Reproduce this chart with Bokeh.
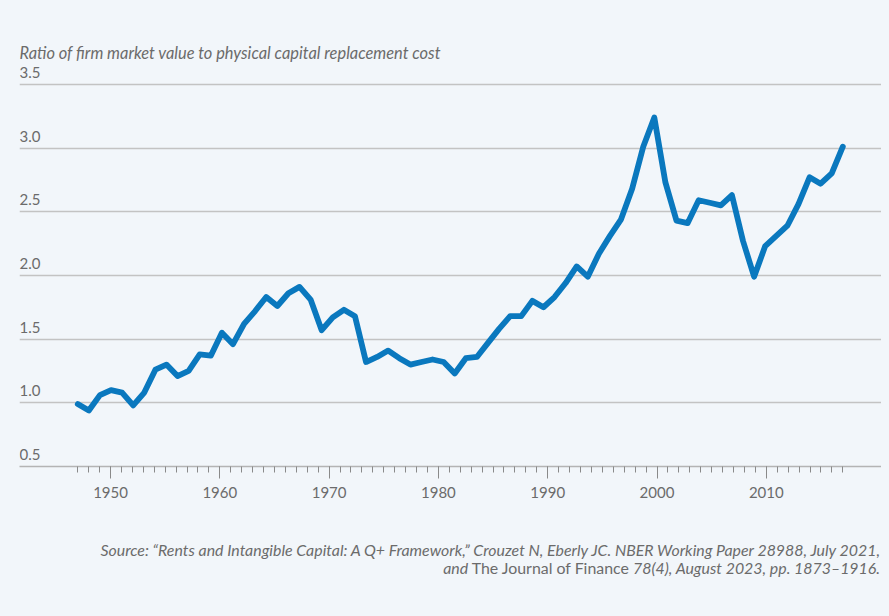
from bokeh.plotting import figure
from bokeh.models import Range1d, FixedTicker, Grid, Div, LinearAxis
from bokeh.core.properties import value
from bokeh.layouts import column
from bokeh.embed import file_html
from bokeh.resources import INLINE

# ---- data ----
years = list(range(1947, 2017))
q_ratio = [0.99, 0.94, 1.06, 1.10, 1.08, 0.98, 1.08, 1.26, 1.30, 1.21,
           1.25, 1.38, 1.37, 1.55, 1.46, 1.62, 1.72, 1.83, 1.76, 1.86,
           1.91, 1.81, 1.57, 1.67, 1.73, 1.68, 1.32, 1.36, 1.41, 1.35,
           1.30, 1.32, 1.34, 1.32, 1.23, 1.35, 1.36, 1.47, 1.58, 1.68,
           1.68, 1.80, 1.75, 1.83, 1.94, 2.07, 1.99, 2.17, 2.31, 2.44,
           2.68, 3.01, 3.24, 2.73, 2.43, 2.41, 2.59, 2.57, 2.55, 2.63,
           2.27, 1.99, 2.23, 2.31, 2.39, 2.56, 2.77, 2.72, 2.80, 3.01]
x_major_ticks = [1950, 1960, 1970, 1980, 1990, 2000, 2010]
x_minor_ticks = list(range(1947, 2018))
y_ticks = [0.5, 1.0, 1.5, 2.0, 2.5, 3.0, 3.5]
y_tick_labels = ["0.5", "1.0", "1.5", "2.0", "2.5", "3.0", "3.5"]
y_title = "Ratio of firm market value to physical capital replacement cost"

BG = "#f2f6fa"
TXT = "#6b6b6b"
FONT = "Lato"

FRAME_H = 466
x_start, x_end = 1941.67, 2020.54
y_start, y_end = 0.5, 0.5 + FRAME_H / 127.4

p = figure(frame_width=862, frame_height=FRAME_H, output_backend="svg",
           toolbar_location=None, x_range=Range1d(x_start, x_end),
           y_range=Range1d(y_start, y_end), x_axis_location=None,
           y_axis_location=None, min_border_left=19, min_border_right=0,
           min_border_top=0, min_border_bottom=62)
p.background_fill_color = BG
p.border_fill_color = BG
p.outline_line_color = None
for r in list(p.center):
    if isinstance(r, Grid):
        p.center.remove(r)

# data series span is stretched to the tick span as in the reference
span_scale = (len(x_minor_ticks) - 2) / (len(x_minor_ticks) - 1)
p.extra_x_ranges = {"data": Range1d(years[0] + (x_start - x_minor_ticks[0]) * span_scale,
                                    years[0] + (x_end - x_minor_ticks[0]) * span_scale)}

xaxis = LinearAxis(ticker=FixedTicker(ticks=x_major_ticks, minor_ticks=x_minor_ticks))
xaxis.axis_line_color = "#b4b4b4"
xaxis.axis_line_width = 1.5
xaxis.major_tick_line_color = "#8a8a8a"
xaxis.minor_tick_line_color = "#8a8a8a"
xaxis.major_tick_out = 12
xaxis.major_tick_in = 0
xaxis.minor_tick_out = 6
xaxis.minor_tick_in = 0
xaxis.major_label_standoff = 8
xaxis.major_label_text_font = FONT
xaxis.major_label_text_font_size = "15px"
xaxis.major_label_text_color = TXT
p.add_layout(xaxis, "below")

grid = Grid(dimension=1, ticker=FixedTicker(ticks=y_ticks))
grid.grid_line_color = "#c3c3c3"
grid.grid_line_width = 1.5
p.add_layout(grid)

p.text(x=[x_start] * len(y_ticks), y=y_ticks, text=y_tick_labels,
       text_font=value(FONT), text_font_size="15px", text_color=TXT,
       text_align="left", text_baseline="alphabetic", y_offset=-12)

p.text(x=[x_start], y=[y_ticks[-1]], text=[y_title],
       text_font=value(FONT), text_font_style="italic", text_font_size="16.4px",
       text_color=TXT, text_align="left", text_baseline="alphabetic", y_offset=-32)

p.line(years, q_ratio, x_range_name="data", line_color="#0a78be",
       line_width=5.8, line_join="round", line_cap="round")

source_html = (
    "<i>Source: \u201cRents and Intangible Capital: A Q+ Framework,\u201d Crouzet N, "
    "Eberly JC. NBER Working Paper 28988, July 2021,</i><br>"
    "<i>and</i> The Journal of Finance <i>78(4), August 2023, pp. 1873\u20131916.</i>"
)
div = Div(text=source_html, width=881, height=80, margin=0,
          styles={"font-family": FONT, "font-size": "15.9px", "color": TXT,
                  "line-height": "18px", "text-align": "right",
                  "padding-top": "13px", "padding-right": "1px",
                  "background-color": BG, "box-sizing": "border-box"})

layout = column(p, div, spacing=0)
try:
    from bokeh.models import GlobalInlineStyleSheet
    layout.stylesheets = [GlobalInlineStyleSheet(css="body{background:%s;}" % BG)]
except Exception:
    pass

open("out.html", "w").write(file_html(layout, INLINE))
